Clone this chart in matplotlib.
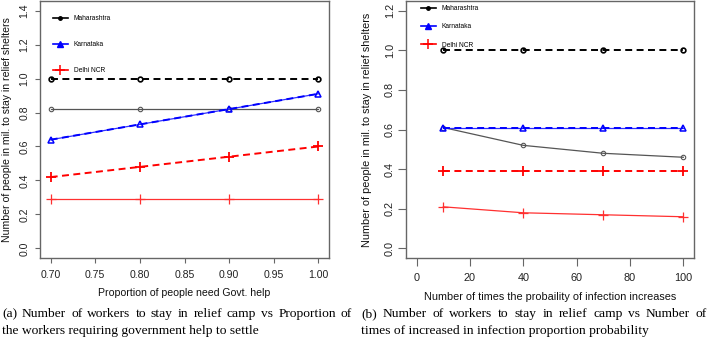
import matplotlib
matplotlib.use('Agg')
import matplotlib.pyplot as plt
from matplotlib.lines import Line2D

plt.rcParams['font.family'] = ['Liberation Sans', 'DejaVu Sans']
plt.rcParams['lines.scale_dashes'] = False

# ---------------- data: panel (a) ----------------
prop_help = [0.70, 0.80, 0.90, 1.00]
a_mah_dashed = [1.00, 1.00, 1.00, 1.00]
a_mah_solid = [0.82, 0.82, 0.82, 0.82]
a_kar_solid = [0.64, 0.73, 0.82, 0.91]
a_kar_dashed = [0.64, 0.73, 0.82, 0.91]
a_del_dashed = [0.42, 0.48, 0.54, 0.60]
a_del_solid = [0.29, 0.29, 0.29, 0.29]
a_xticks = [0.70, 0.75, 0.80, 0.85, 0.90, 0.95, 1.00]
a_yticks = [0.0, 0.2, 0.4, 0.6, 0.8, 1.0, 1.2, 1.4]

# ---------------- data: panel (b) ----------------
times_inc = [10, 40, 70, 100]
b_mah_dashed = [1.00, 1.00, 1.00, 1.00]
b_mah_solid = [0.61, 0.52, 0.48, 0.46]
b_kar_dashed = [0.61, 0.61, 0.61, 0.61]
b_kar_solid = [0.61, 0.61, 0.61, 0.61]
b_del_dashed = [0.39, 0.39, 0.39, 0.39]
b_del_solid = [0.21, 0.18, 0.17, 0.16]
b_xticks = [0, 20, 40, 60, 80, 100]
b_yticks = [0.0, 0.2, 0.4, 0.6, 0.8, 1.0, 1.2]

legend_labels = ['Maharashtra', 'Karnataka', 'Delhi NCR']
ylabel = 'Number of people in mil. to stay in relief shelters'
a_xlabel = 'Proportion of people need Govt. help'
b_xlabel = 'Number of times the probaility of infection increases'
a_caption = ['(a)  Number of workers to stay in relief camp vs Proportion of',
             'the workers requiring government help to settle']
b_caption = ['(b)  Number of workers to stay in relief camp vs Number of',
             'times of increased in infection proportion probability']

W, H = 709, 337
fig = plt.figure(figsize=(W / 100, H / 100), dpi=100)

FRAME = '#666666'
DASH = (5, 3.2)


def px_axes(x0, x1, ytop, ybot):
    return fig.add_axes([x0 / W, (H - ybot) / H, (x1 - x0) / W, (ybot - ytop) / H])


def draw_panel(ax, x, mah_d, mah_s, kar_s, kar_d, del_d, del_s, xticks, yticks,
               xlim, xfmt, xlabel, fs, lab_x, tick_len, ypad):
    # solid thin lines
    ax.plot(x, mah_s, color='#555555', lw=0.9, marker='o', ms=3.2,
            mfc='none', mec='#555555', mew=0.8)
    ax.plot(x, kar_s, color='#3030ff', lw=0.9)
    ax.plot(x, del_s, color='#ff3030', lw=0.9, marker='+', ms=7, mew=0.9)
    # dashed lines
    ax.plot(x, mah_d, color='black', lw=1.4, dashes=DASH, marker='o', ms=3.4,
            mfc='none', mec='black', mew=1.2)
    ax.plot(x, kar_d, color='blue', lw=1.4, dashes=DASH, marker='^', ms=5,
            mfc='none', mec='blue', mew=1.1)
    ax.plot(x, del_d, color='red', lw=1.4, dashes=DASH, marker='+', ms=7, mew=1.3)

    lo, hi = xlim
    ax.set_xlim(lo - 0.04 * (hi - lo), hi + 0.04 * (hi - lo))
    ylo, yhi = yticks[0], yticks[-1]
    ax.set_ylim(ylo - 0.04 * (yhi - ylo), yhi + 0.04 * (yhi - ylo))
    ax.set_xticks(xticks)
    ax.set_xticklabels([xfmt.format(v) for v in xticks])
    ax.set_yticks(yticks)
    ax.set_yticklabels(['{:.1f}'.format(v) for v in yticks], rotation=90, va='center')
    ax.tick_params(direction='out', length=tick_len, width=0.8, color=FRAME,
                   labelsize=fs, labelcolor='#222222', pad=5)
    ax.tick_params(axis='y', pad=ypad)
    for s in ax.spines.values():
        s.set_color(FRAME)
        s.set_linewidth(1.0)
    ax.set_xlabel(xlabel, fontsize=fs, color='#111111', labelpad=6)
    ax.set_ylabel(ylabel, fontsize=fs, color='#111111', va='center')
    ax.yaxis.set_label_coords(lab_x, 0.5)


# panel (a)
ax1 = px_axes(40, 329, 1, 258)
draw_panel(ax1, prop_help, a_mah_dashed, a_mah_solid, a_kar_solid, a_kar_dashed,
           a_del_dashed, a_del_solid, a_xticks, a_yticks, (0.70, 1.00), '{:.2f}',
           a_xlabel, 7.6, -0.115, 3.5, 4)

# panel (b)
ax2 = px_axes(406, 694, 1, 258)
draw_panel(ax2, times_inc, b_mah_dashed, b_mah_solid, b_kar_solid, b_kar_dashed,
           b_del_dashed, b_del_solid, b_xticks, b_yticks, (0, 100), '{:d}',
           b_xlabel, 7.8, -0.135, 6, 2)

# legends
handles = [Line2D([], [], color='black', lw=1.2, marker='o', ms=2.5),
           Line2D([], [], color='blue', lw=1.2, marker='^', ms=4),
           Line2D([], [], color='red', lw=1.2, marker='+', ms=7, mew=1.1)]
ax1.legend(handles, legend_labels, loc='upper left', frameon=False,
           bbox_to_anchor=((53 - 40) / 289, 1.0 - 14 / 257), fontsize=4.8,
           handlelength=2.2, handletextpad=0.9, labelspacing=2.85,
           borderaxespad=0, borderpad=0)
ax2.legend(handles, legend_labels, loc='upper left', frameon=False,
           bbox_to_anchor=((421 - 406) / 288, 1.0 - 4 / 257), fontsize=4.8,
           handlelength=2.2, handletextpad=0.9, labelspacing=1.7,
           borderaxespad=0, borderpad=0)

# captions (justified first line)
fig.canvas.draw()
renderer = fig.canvas.get_renderer()
CAP_FS = 9.7


def caption(lines, x0, x1, y0, dy):
    for i, line in enumerate(lines):
        ypx = y0 + i * dy
        if i == 0:
            words = line.split()
            texts = [fig.text(0, 1 - ypx / H, w, fontsize=CAP_FS, va='baseline',
                              family='Liberation Serif', color='black') for w in words]
            widths = [t.get_window_extent(renderer).width for t in texts]
            gap = (x1 - x0 - sum(widths)) / (len(words) - 1)
            cx = x0
            for t, w in zip(texts, widths):
                t.set_x(cx / W)
                cx += w + gap
        else:
            fig.text(x0 / W, 1 - ypx / H, line, fontsize=CAP_FS, va='baseline',
                     family='Liberation Serif', color='black')


caption(a_caption, 2, 352, 317, 17)
caption(b_caption, 361, 707, 317, 17)

fig.savefig('out.png', dpi=100)
